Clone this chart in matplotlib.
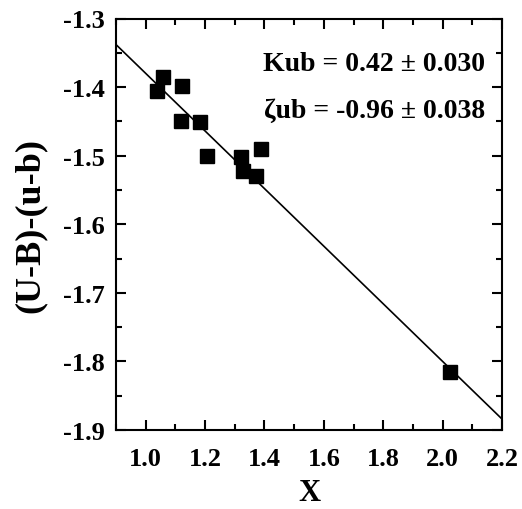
import matplotlib
matplotlib.use("Agg")
import matplotlib.pyplot as plt
import matplotlib.ticker as ticker
import numpy as np

# colour index X vs. (U-B)-(u-b) residual, with linear fit
x_vals = [1.039, 1.059, 1.123, 1.119, 1.183, 1.205, 1.320, 1.329, 1.371, 1.388, 2.025]
y_vals = [-1.405, -1.386, -1.398, -1.449, -1.451, -1.500, -1.502, -1.522, -1.529, -1.490, -1.816]

k_ub, k_err = 0.42, 0.030
zeta_ub, zeta_err = -0.96, 0.038

plt.rcParams["font.family"] = ["Liberation Serif", "DejaVu Serif"]
plt.rcParams["font.weight"] = "bold"

fig = plt.figure(figsize=(5.22, 5.10), dpi=100)
ax = fig.add_axes([116/522, 1 - 431/510, (502-116)/522, (431-19.5)/510])

xfit = np.array([0.9, 2.2])
ax.plot(xfit, zeta_ub - k_ub * xfit, color="black", lw=1.2, zorder=2)
ax.plot(x_vals, y_vals, "s", color="black", ms=10, zorder=3)

ax.set_xlim(0.9, 2.2)
ax.set_ylim(-1.9, -1.3)
ax.xaxis.set_major_locator(ticker.MultipleLocator(0.2))
ax.xaxis.set_minor_locator(ticker.MultipleLocator(0.1))
ax.yaxis.set_major_locator(ticker.MultipleLocator(0.1))
ax.yaxis.set_minor_locator(ticker.MultipleLocator(0.05))
ax.xaxis.set_major_formatter(ticker.FormatStrFormatter("%.1f"))
ax.yaxis.set_major_formatter(ticker.FuncFormatter(lambda v, p: f"{v:.1f}".replace("\u2212", "-")))

ax.tick_params(which="both", direction="in", top=True, right=True, width=1.5)
ax.tick_params(which="major", length=7, labelsize=19)
ax.tick_params(axis="x", which="major", pad=12)
ax.tick_params(axis="y", which="major", pad=8)
ax.tick_params(which="minor", length=4)
for lbl in ax.get_xticklabels() + ax.get_yticklabels():
    lbl.set_fontweight("bold")
for s in ax.spines.values():
    s.set_linewidth(1.5)

ax.set_xlabel("X", fontsize=22, fontweight="bold", labelpad=6)
ax.set_ylabel("(U-B)-(u-b)", fontsize=26, fontweight="bold", labelpad=12)

ax.text(0.955, 0.875, f"Kub = {k_ub:.2f} \u00b1 {k_err:.3f}", transform=ax.transAxes,
        ha="right", va="baseline", fontsize=20, fontweight="bold")
ax.text(0.955, 0.76, f"\u03b6ub = {zeta_ub:.2f} \u00b1 {zeta_err:.3f}", transform=ax.transAxes,
        ha="right", va="baseline", fontsize=20, fontweight="bold")

fig.savefig("out.png", dpi=100)
